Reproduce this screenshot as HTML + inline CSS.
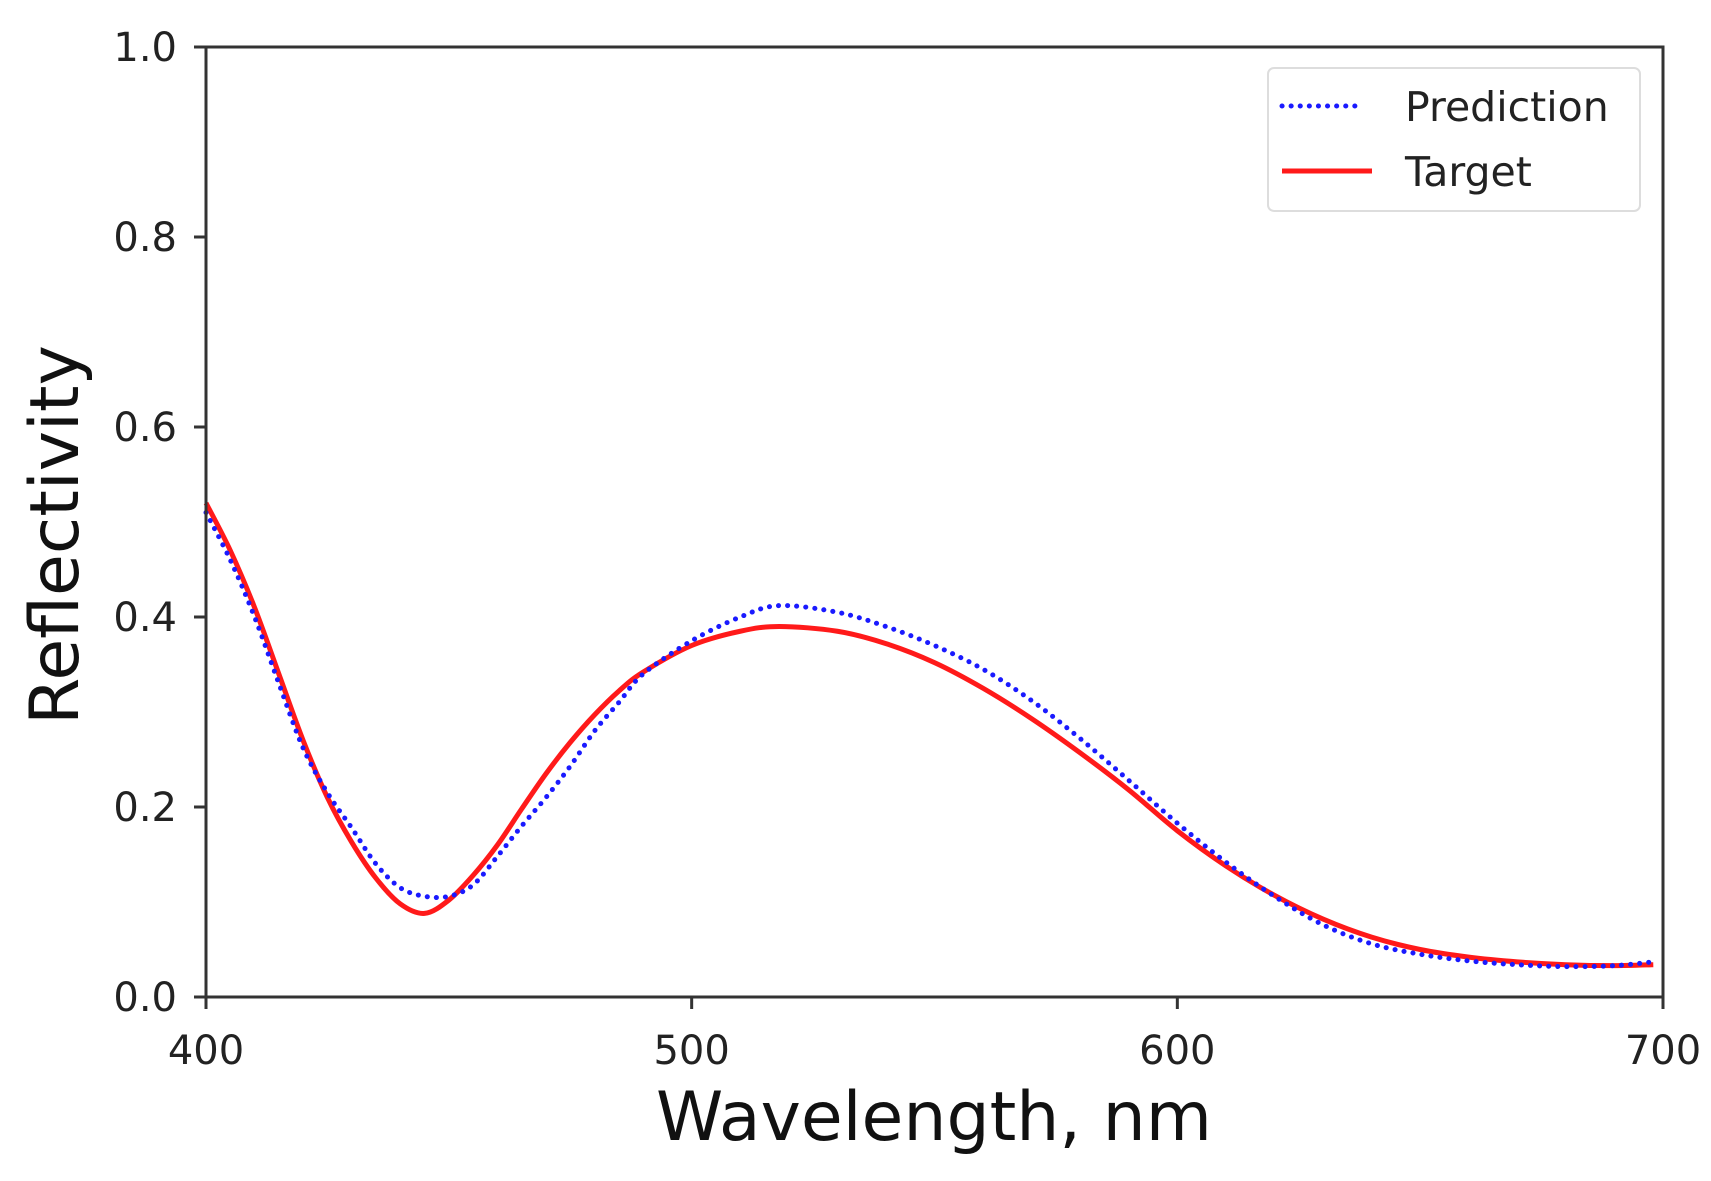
<!DOCTYPE html>
<html><head><meta charset="utf-8"><style>
html,body{margin:0;padding:0;background:#fff;}
svg{display:block;font-family:"DejaVu Sans","Liberation Sans",sans-serif;}
</style></head><body>
<svg id="chart" width="1711" height="1181" viewBox="0 0 1711 1181">
<g id="grid"></g>
<g id="series"></g>
<rect x="206" y="47" width="1457" height="950" fill="none" stroke="#333" stroke-width="3"/>
<g id="ticks"></g>
<text x="934" y="1140" font-size="68" text-anchor="middle" fill="#111">Wavelength, nm</text>
<text x="0" y="0" font-size="68" text-anchor="middle" fill="#111" transform="translate(78,535) rotate(-90)">Reflectivity</text>
<g>
<rect x="1268" y="68" width="372" height="143" rx="6" fill="#fff" stroke="#ddd" stroke-width="2"/>
<line x1="1282" y1="106" x2="1362" y2="106" stroke="#1a1aff" stroke-width="5" stroke-dasharray="0.1 9" stroke-linecap="round"/>
<text x="1405" y="121" font-size="41" fill="#222">Prediction</text>
<line x1="1282" y1="171" x2="1372" y2="171" stroke="#ff1a1a" stroke-width="5"/>
<text x="1405" y="186" font-size="41" fill="#222">Target</text>
</g>
</svg>
<script>
const xTicks=[400,500,600,700];
const yTicks=[0.0,0.2,0.4,0.6,0.8,1.0];
const wavelengths=[400,405,410,415,420,425,430,435,440,445,450,455,460,465,470,475,480,485,490,500,510,518,530,540,550,560,570,580,590,600,610,620,630,640,650,660,670,680,690,698];
const targetVals=[0.52,0.47,0.41,0.34,0.27,0.21,0.163,0.125,0.098,0.088,0.102,0.128,0.16,0.198,0.235,0.268,0.297,0.322,0.342,0.37,0.385,0.39,0.385,0.372,0.352,0.325,0.293,0.257,0.218,0.175,0.138,0.107,0.082,0.063,0.05,0.042,0.037,0.034,0.033,0.034];
const predVals=[0.51,0.46,0.40,0.33,0.262,0.215,0.178,0.14,0.115,0.106,0.106,0.118,0.148,0.18,0.21,0.243,0.28,0.31,0.34,0.375,0.40,0.412,0.405,0.39,0.37,0.345,0.312,0.272,0.228,0.183,0.142,0.106,0.076,0.056,0.045,0.038,0.034,0.032,0.033,0.037];
const X0=206,X1=1663,Y0=997,Y1=47;
function sx(v){return X0+(v-400)/300*(X1-X0);}
function sy(v){return Y0-v*(Y0-Y1);}
const NS='http://www.w3.org/2000/svg';
const tg=document.getElementById('ticks');
xTicks.forEach(t=>{
 const l=document.createElementNS(NS,'line');
 l.setAttribute('x1',sx(t));l.setAttribute('x2',sx(t));l.setAttribute('y1',Y0);l.setAttribute('y2',Y0+12);
 l.setAttribute('stroke','#333');l.setAttribute('stroke-width','3');
 
 
 tg.appendChild(l);
 const tx=document.createElementNS(NS,'text');
 tx.setAttribute('x',sx(t));tx.setAttribute('y',1064);tx.setAttribute('font-size','40');tx.setAttribute('text-anchor','middle');tx.setAttribute('fill','#222');
 tx.textContent=t;
 
 
 tg.appendChild(tx);
});
yTicks.forEach(t=>{
 const l=document.createElementNS(NS,'line');
 l.setAttribute('x1',X0-12);l.setAttribute('x2',X0);l.setAttribute('y1',sy(t));l.setAttribute('y2',sy(t));
 l.setAttribute('stroke','#333');l.setAttribute('stroke-width','3');
 
 
 tg.appendChild(l);
 const tx=document.createElementNS(NS,'text');
 tx.setAttribute('x',177);tx.setAttribute('y',sy(t)+14);tx.setAttribute('font-size','40');tx.setAttribute('text-anchor','end');tx.setAttribute('fill','#222');
 tx.textContent=t.toFixed(1);
 
 
 tg.appendChild(tx);
});
function pathFor(vals){
 const p=wavelengths.map((w,i)=>[sx(w),sy(vals[i])]);
 let d='M'+p[0][0]+','+p[0][1];
 for(let i=0;i<p.length-1;i++){
  const a=p[i-1]||p[i],b=p[i],c=p[i+1],e=p[i+2]||c;
  d+=' C'+(b[0]+(c[0]-a[0])/6)+','+(b[1]+(c[1]-a[1])/6)+' '+(c[0]-(e[0]-b[0])/6)+','+(c[1]-(e[1]-b[1])/6)+' '+c[0]+','+c[1];
 }
 return d;
}
const sg=document.getElementById('series');
const tp=document.createElementNS(NS,'path');
tp.setAttribute('d',pathFor(targetVals));tp.setAttribute('fill','none');tp.setAttribute('stroke','#ff1a1a');tp.setAttribute('stroke-width','5');


sg.appendChild(tp);
const pp=document.createElementNS(NS,'path');
pp.setAttribute('d',pathFor(predVals));pp.setAttribute('fill','none');pp.setAttribute('stroke','#1a1aff');pp.setAttribute('stroke-width','5');pp.setAttribute('stroke-dasharray','0.1 9');pp.setAttribute('stroke-linecap','round');


sg.appendChild(pp);
</script>
</body></html>
